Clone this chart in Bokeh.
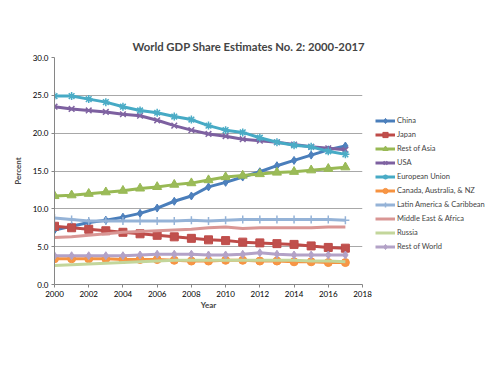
from bokeh.plotting import figure
from bokeh.models import Legend, LegendItem, PrintfTickFormatter, FixedTicker, Range1d
from bokeh.embed import file_html
from bokeh.resources import INLINE

years = list(range(2000, 2018))

china = [7.2, 7.7, 8.2, 8.5, 8.9, 9.4, 10.1, 11.0, 11.7, 12.9, 13.5, 14.2, 14.9, 15.7, 16.4, 17.1, 17.8, 18.3]
japan = [7.7, 7.5, 7.3, 7.1, 6.9, 6.7, 6.5, 6.3, 6.1, 5.9, 5.8, 5.6, 5.5, 5.4, 5.3, 5.1, 4.9, 4.8]
rest_asia = [11.7, 11.8, 12.0, 12.2, 12.4, 12.7, 12.9, 13.2, 13.4, 13.8, 14.2, 14.4, 14.6, 14.8, 14.9, 15.1, 15.3, 15.5]
usa = [23.5, 23.2, 23.0, 22.8, 22.5, 22.3, 21.7, 21.0, 20.4, 19.9, 19.6, 19.2, 19.0, 18.8, 18.5, 18.2, 18.0, 17.8]
eu = [24.9, 24.9, 24.5, 24.1, 23.5, 23.0, 22.7, 22.2, 21.8, 21.0, 20.4, 20.1, 19.4, 18.8, 18.4, 18.2, 17.6, 17.2]
can_aus_nz = [3.4, 3.4, 3.4, 3.4, 3.3, 3.3, 3.3, 3.2, 3.1, 3.1, 3.2, 3.2, 3.1, 3.1, 3.0, 3.0, 2.9, 2.9]
latam = [8.8, 8.6, 8.4, 8.4, 8.4, 8.4, 8.4, 8.4, 8.5, 8.4, 8.5, 8.6, 8.6, 8.6, 8.6, 8.6, 8.6, 8.5]
mea = [6.2, 6.3, 6.5, 6.7, 6.9, 7.0, 7.1, 7.2, 7.3, 7.5, 7.6, 7.4, 7.5, 7.5, 7.5, 7.5, 7.6, 7.6]
russia = [2.5, 2.6, 2.7, 2.8, 2.9, 3.0, 3.1, 3.2, 3.2, 3.2, 3.2, 3.2, 3.2, 3.2, 3.2, 3.1, 3.1, 3.0]
rest_world = [3.8, 3.8, 3.8, 3.8, 3.8, 3.9, 4.0, 4.0, 4.0, 3.9, 3.9, 4.0, 4.2, 4.0, 3.9, 3.9, 3.9, 3.9]

x_ticks = [2000, 2002, 2004, 2006, 2008, 2010, 2012, 2014, 2016, 2018]
y_ticks = [0, 5, 10, 15, 20, 25, 30]

series = [
    ("China", china, "#4A7EBB", "#4F81BD", "diamond"),
    ("Japan", japan, "#BE4B48", "#C0504D", "square"),
    ("Rest of Asia", rest_asia, "#98B954", "#9BBB59", "triangle"),
    ("USA", usa, "#7D60A0", "#8064A2", "x"),
    ("European Union", eu, "#46AAC5", "#4BACC6", "asterisk"),
    ("Canada, Australia, & NZ", can_aus_nz, "#F69240", "#F79646", "circle"),
    ("Latin America & Caribbean", latam, "#95B3D7", "#95B3D7", "cross"),
    ("Middle East & Africa", mea, "#D99694", "#D99694", None),
    ("Russia", russia, "#C3D69B", "#C3D69B", None),
    ("Rest of World", rest_world, "#B3A2C7", "#B3A2C7", "diamond"),
]

FONT = "Lato"

p = figure(frame_width=308, frame_height=227, output_backend="svg", toolbar_location=None,
           x_range=Range1d(2000, 2018), y_range=Range1d(0, 30),
           min_border_left=54, min_border_right=0, min_border_top=57, min_border_bottom=91,
           title="World GDP Share Estimates No. 2: 2000-2017")

p.title.align = "left"
p.title.offset = 78
p.title.text_font = FONT
p.title.text_font_size = "11.3px"
p.title.text_font_style = "bold"
p.outline_line_color = None

p.xaxis.ticker = FixedTicker(ticks=x_ticks)
p.yaxis.ticker = FixedTicker(ticks=y_ticks)
p.yaxis.formatter = PrintfTickFormatter(format="%.1f")
for ax in (p.xaxis, p.yaxis):
    ax.axis_line_color = "#868686"
    ax.major_tick_line_color = "#868686"
    ax.major_tick_out = 3
    ax.major_tick_in = 0
    ax.minor_tick_line_color = None
    ax.major_label_standoff = 3
    ax.major_label_text_font = FONT
    ax.major_label_text_font_size = "8px"
    ax.major_label_text_color = "#000000"
    ax.axis_label_text_font = FONT
    ax.axis_label_text_font_size = "8px"
    ax.axis_label_text_font_style = "bold"
p.xaxis.axis_label = "Year"
p.yaxis.axis_label = "Percent"
p.xaxis.axis_label_standoff = 0
p.yaxis.axis_label_standoff = 7

p.xgrid.grid_line_color = None
p.ygrid.grid_line_color = "#A8A8A8"
p.ygrid.grid_line_width = 1

items = []
for name, vals, lc, fc, marker in series:
    renderers = []
    r = p.line(years, vals, line_color=lc, line_width=3)
    renderers.append(r)
    if marker is not None:
        if marker in ("x", "asterisk", "cross"):
            m = p.scatter(years, vals, marker=marker, size=8, line_color=fc, line_width=1.5)
        else:
            sz = 8 if marker != "triangle" else 9
            m = p.scatter(years, vals, marker=marker, size=sz, fill_color=fc, line_color=lc, line_width=1)
        renderers.append(m)
    items.append(LegendItem(label=name, renderers=renderers))

legend = Legend(items=items, location=(13, 31), orientation="vertical")
legend.label_text_font = FONT
legend.label_text_font_size = "7.5px"
legend.glyph_width = 20
legend.glyph_height = 13
legend.label_height = 13
legend.spacing = 1
legend.padding = 0
legend.margin = 10
legend.label_standoff = 2
legend.border_line_color = None
legend.background_fill_alpha = 0
p.add_layout(legend, "right")

open("out.html", "w").write(file_html(p, INLINE))
